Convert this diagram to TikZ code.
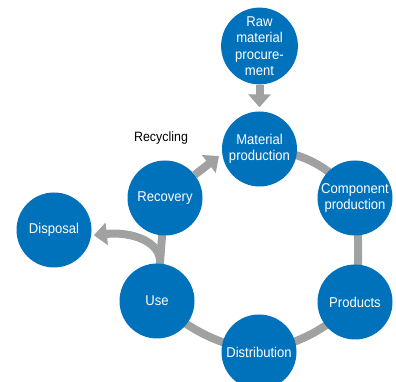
\documentclass[tikz,border=0pt]{standalone}
\usepackage{fontspec}
\setmainfont{Liberation Sans}[FakeStretch=0.92]
\usetikzlibrary{arrows.meta,backgrounds,calc}
\definecolor{cblue}{RGB}{0,114,188}
\definecolor{cgray}{RGB}{160,161,161}
\begin{document}
\begin{tikzpicture}[x=1pt,y=1pt,
  stage/.style={circle,fill=cblue,minimum size=75pt,inner sep=0pt,text=white,align=center,font=\fontsize{14.2}{16.5}\selectfont},
  ring/.style={draw=cgray,line width=8pt},
  bigarrow/.style={draw=cgray,line width=8pt,-{Triangle[width=22pt,length=13pt]}}]
\useasboundingbox (0,0) rectangle (396,382);
\node[stage] (raw) at (259.5,336) {Raw\\material\\procure-\\ment};
\node[stage] (mp) at (259.5,233) {Material\\production};
\node[stage] (cp) at (355,184) {Component\\production};
\node[stage] (prod) at (355,80) {Products};
\node[stage] (dist) at (259,30) {Distribution};
\node[stage] (use) at (157,81) {Use};
\node[stage] (rec) at (165,184) {Recovery};
\node[stage] (disp) at (54,152) {Disposal};
\node[font=\fontsize{13.5}{15}\selectfont] (lbl) at (161,244) {Recycling};
\coordinate (rtip) at (219,226);
\coordinate (fork) at ($(use.center)!0.38!(rec.center)$);
\begin{pgfonlayer}{background}
  \draw[ring] (mp.center) to[bend left=24] (cp.center);
  \draw[ring] (cp.center) to[bend left=6] (prod.center);
  \draw[ring] (prod.center) to[bend left=15] (dist.center);
  \draw[ring] (dist.center) to[bend left=15] (use.center);
  \draw[ring] (use.center) -- (rec.center);
  \draw[bigarrow] (fork) .. controls +(0.5,20) and +(38,4) .. ([xshift=2.5pt]disp.-8);
\end{pgfonlayer}
\draw[bigarrow] (raw.south) -- ([yshift=4pt]mp.north);
\draw[bigarrow] (rec) -- (rtip);
\end{tikzpicture}
\end{document}
